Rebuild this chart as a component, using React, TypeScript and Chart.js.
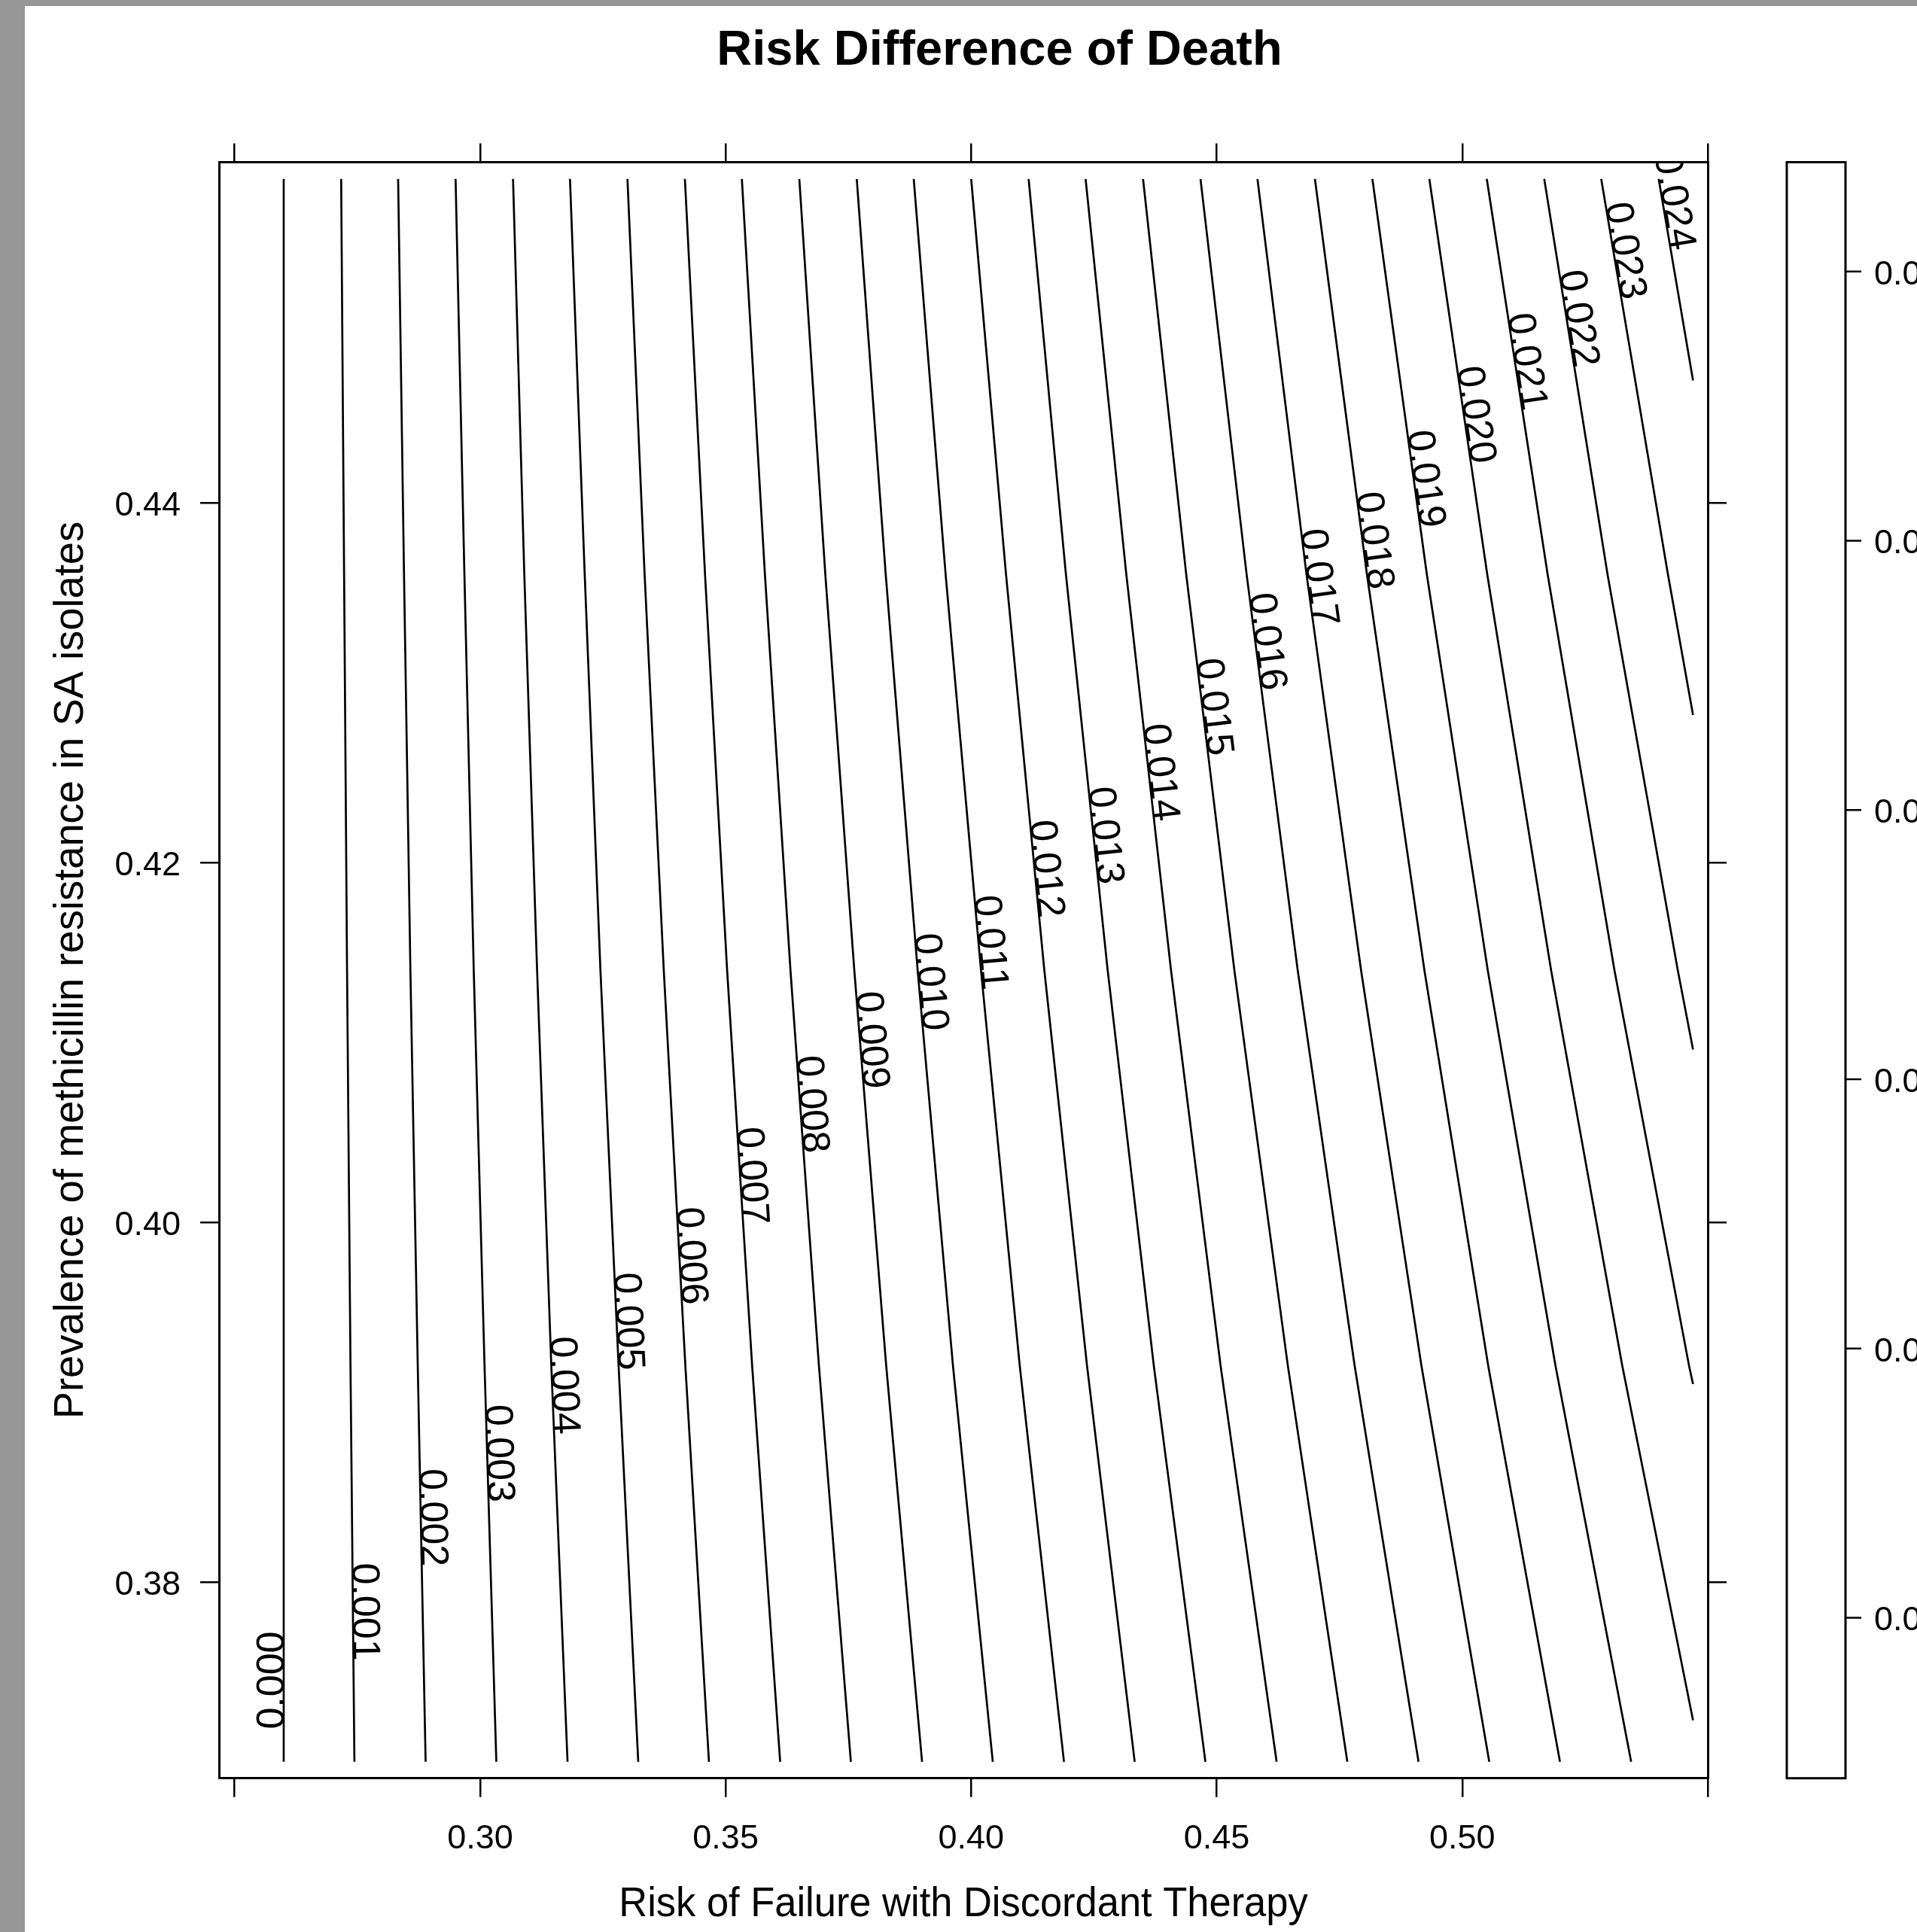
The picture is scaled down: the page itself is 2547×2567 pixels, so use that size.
import React, { useEffect, useRef } from "react";
import { Chart, registerables } from "chart.js";

Chart.register(...registerables);

const CANVAS_W = 2547;
const CANVAS_H = 2567;

const chartTitle = "Risk Difference of Death";
const xAxisTitle = "Risk of Failure with Discordant Therapy";
const yAxisTitle = "Prevalence of methicillin resistance in SA isolates";

const contourLevels = [
  "0.000", "0.001", "0.002", "0.003", "0.004", "0.005", "0.006", "0.007", "0.008",
  "0.009", "0.010", "0.011", "0.012", "0.013", "0.014", "0.015", "0.016", "0.017",
  "0.018", "0.019", "0.020", "0.021", "0.022", "0.023", "0.024",
];

// y positions at which each contour line's x was read
const sampleY = [0.458, 0.436, 0.414, 0.392, 0.37];
const xAtY458 = [0.2600, 0.2717, 0.2833, 0.2950, 0.3067, 0.3183, 0.3300, 0.3417, 0.3533, 0.3650, 0.3767, 0.3883, 0.4000, 0.4117, 0.4233, 0.4350, 0.4467, 0.4583, 0.4700, 0.4817, 0.4933, 0.5050, 0.5167, 0.5283, 0.5400];
const xAtY436 = [0.2600, 0.2723, 0.2845, 0.2968, 0.3090, 0.3213, 0.3335, 0.3458, 0.3580, 0.3703, 0.3826, 0.3948, 0.4071, 0.4193, 0.4316, 0.4438, 0.4561, 0.4683, 0.4806, 0.4928, 0.5051, 0.5174, 0.5296, 0.5419, null];
const xAtY414 = [0.2600, 0.2729, 0.2858, 0.2987, 0.3116, 0.3245, 0.3374, 0.3503, 0.3632, 0.3762, 0.3891, 0.4020, 0.4149, 0.4278, 0.4407, 0.4536, 0.4665, 0.4794, 0.4923, 0.5052, 0.5181, 0.5310, 0.5439, null, null];
const xAtY392 = [0.2600, 0.2736, 0.2873, 0.3009, 0.3145, 0.3282, 0.3418, 0.3554, 0.3690, 0.3827, 0.3963, 0.4099, 0.4236, 0.4372, 0.4508, 0.4645, 0.4781, 0.4917, 0.5053, 0.5190, 0.5326, 0.5462, null, null, null];
const xAtY370 = [0.2600, 0.2744, 0.2889, 0.3033, 0.3178, 0.3322, 0.3466, 0.3611, 0.3755, 0.3900, 0.4044, 0.4189, 0.4333, 0.4477, 0.4622, 0.4766, 0.4911, 0.5055, 0.5199, 0.5344, null, null, null, null, null];

// lines that leave the data grid through its right edge
const gridRightX = 0.547;
const exitYAtRight = [
  null, null, null, null, null, null, null, null, null, null,
  null, null, null, null, null, null, null, null, null, null,
  0.3723, 0.391, 0.4096, 0.4282, 0.4468,
];

// y (centre along the line) of each contour label
const labelY = [
  0.37453, 0.37833, 0.38357, 0.38713, 0.3909, 0.39446, 0.39809, 0.40254, 0.40651,
  0.41008, 0.4133, 0.41549, 0.41959, 0.42144, 0.42494, 0.42857, 0.4322, 0.43576,
  0.43782, 0.44124, 0.4448, 0.44775, 0.45014, 0.45391, 0.45665,
];

const xRange = [0.246827, 0.55];
const yRange = [0.369084, 0.458933];
const xTicks = [0.25, 0.3, 0.35, 0.4, 0.45, 0.5, 0.55];
const xTickLabels = ["", "0.30", "0.35", "0.40", "0.45", "0.50", ""];
const yTicks = [0.38, 0.4, 0.42, 0.44];
const yTickLabels = ["0.38", "0.40", "0.42", "0.44"];

const keyRange = [-0.00298, 0.02703];
const keyTicks = [0.0, 0.005, 0.01, 0.015, 0.02, 0.025];
const keyTickLabels = ["0.000", "0.005", "0.010", "0.015", "0.020", "0.025"];

const FONT = "'Liberation Sans', Arial, sans-serif";

function drawText(
  ctx: CanvasRenderingContext2D,
  text: string,
  x: number,
  y: number,
  font: string,
  align: CanvasTextAlign,
  rotate = 0,
  fitWidth = 0
) {
  ctx.save();
  ctx.font = font;
  ctx.fillStyle = "#000";
  ctx.textAlign = align;
  ctx.textBaseline = "alphabetic";
  ctx.translate(x, y);
  if (rotate) ctx.rotate(rotate);
  if (fitWidth) {
    const m = ctx.measureText(text);
    const w = m.actualBoundingBoxLeft + m.actualBoundingBoxRight;
    if (w > 0) ctx.scale(fitWidth / w, 1);
  }
  ctx.fillText(text, 0, 0);
  ctx.restore();
}

const columns = [xAtY458, xAtY436, xAtY414, xAtY392, xAtY370];

function buildDatasets() {
  return contourLevels.map((lvl, i) => {
    const pts: { x: number; y: number }[] = [];
    columns.forEach((col, j) => {
      const v = col[i];
      if (v !== null && v !== undefined) pts.push({ x: v, y: sampleY[j] });
    });
    const ey = exitYAtRight[i];
    if (ey !== null && ey !== undefined) pts.push({ x: gridRightX, y: ey });
    return {
      label: lvl,
      data: pts,
      showLine: true,
      borderColor: "#000",
      borderWidth: 2.7,
      pointRadius: 0,
      pointHoverRadius: 0,
      tension: 0,
      fill: false,
    };
  });
}

const decorPlugin = {
  id: "decor",
  beforeDraw(chart: any) {
    const ctx = chart.ctx as CanvasRenderingContext2D;
    ctx.save();
    ctx.fillStyle = "#fff";
    ctx.fillRect(0, 0, CANVAS_W, CANVAS_H);
    ctx.fillStyle = "#969696";
    ctx.fillRect(0, 0, 33, CANVAS_H);
    ctx.fillRect(0, 0, CANVAS_W, 8);
    ctx.restore();
  },
  afterDatasetsDraw(chart: any) {
    const ctx = chart.ctx as CanvasRenderingContext2D;
    const area = chart.chartArea;
    const ys = chart.scales.y;
    ctx.save();
    ctx.beginPath();
    ctx.rect(area.left, area.top, area.right - area.left, area.bottom - area.top);
    ctx.clip();
    contourLevels.forEach((lvl, i) => {
      const meta = chart.getDatasetMeta(i);
      const pts = meta.data;
      const yp = ys.getPixelForValue(labelY[i]);
      for (let k = 0; k < pts.length - 1; k++) {
        const a = pts[k];
        const b = pts[k + 1];
        if ((yp >= a.y && yp <= b.y) || k === pts.length - 2) {
          const t = (yp - a.y) / (b.y - a.y);
          const xp = a.x + t * (b.x - a.x);
          const dx = b.x - a.x;
          const dy = b.y - a.y;
          const ang = Math.abs(dx) < 0.5 ? -Math.PI / 2 : Math.atan2(dy, dx);
          drawText(ctx, lvl, xp, yp, `52px ${FONT}`, "center", ang);
          break;
        }
      }
    });
    ctx.restore();
  },
  afterDraw(chart: any) {
    const ctx = chart.ctx as CanvasRenderingContext2D;
    const area = chart.chartArea;
    const xs = chart.scales.x;
    const ys = chart.scales.y;

    drawText(ctx, chartTitle, 1328, 86, `bold 65px ${FONT}`, "center");
    drawText(ctx, xAxisTitle, (area.left + area.right) / 2, 2546, `55px ${FONT}`, "center", 0, 912);
    drawText(ctx, yAxisTitle, 110, (area.top + area.bottom) / 2, `55px ${FONT}`, "center", -Math.PI / 2, 1187);

    xTicks.forEach((v, i) => {
      if (!xTickLabels[i]) return;
      drawText(ctx, xTickLabels[i], xs.getPixelForValue(v), 2456, `45px ${FONT}`, "center");
    });
    yTicks.forEach((v, i) => {
      drawText(ctx, yTickLabels[i], 240, ys.getPixelForValue(v) + 17, `45px ${FONT}`, "right");
    });

    // colour key
    const kLeft = area.right + 105;
    const kRight = area.right + 183;
    const kTop = area.top;
    const kBottom = area.bottom;
    const keyPix = (v: number) =>
      kTop + ((keyRange[1] - v) / (keyRange[1] - keyRange[0])) * (kBottom - kTop);
    ctx.save();
    ctx.strokeStyle = "#000";
    ctx.lineWidth = 3;
    ctx.strokeRect(kLeft, kTop, kRight - kLeft, kBottom - kTop);
    ctx.lineWidth = 2.5;
    keyTicks.forEach((v) => {
      const p = keyPix(v);
      ctx.beginPath();
      ctx.moveTo(kRight, p);
      ctx.lineTo(kRight + 21, p);
      ctx.stroke();
    });
    ctx.restore();
    keyTicks.forEach((v, i) => {
      drawText(ctx, keyTickLabels[i], kRight + 38, keyPix(v) + 17, `45px ${FONT}`, "left");
    });
  },
};

function axisCommon(extra: any) {
  return {
    type: "linear",
    ticks: { display: false },
    grid: {
      display: true,
      drawOnChartArea: false,
      drawTicks: true,
      tickLength: 25,
      color: "#000",
      lineWidth: 2.5,
    },
    border: { display: true, color: "#000", width: 3 },
    ...extra,
  };
}

export default function App() {
  const ref = useRef<HTMLCanvasElement>(null);
  useEffect(() => {
    document.body.style.margin = "0";
    document.body.style.overflow = "hidden";
    const canvas = ref.current;
    if (!canvas) return;
    const setX = (s: any) => {
      s.ticks = xTicks.map((v) => ({ value: v }));
    };
    const setY = (s: any) => {
      s.ticks = yTicks.map((v) => ({ value: v }));
    };
    const chart = new Chart(canvas, {
      type: "scatter",
      data: { datasets: buildDatasets() as any },
      options: {
        responsive: false,
        animation: false,
        devicePixelRatio: 1,
        events: [],
        layout: { padding: { left: 266, right: 253, top: 190.5, bottom: 179.3 } },
        plugins: { legend: { display: false }, title: { display: false }, tooltip: { enabled: false } },
        scales: {
          x: axisCommon({
            axis: "x",
            position: "bottom",
            min: xRange[0],
            max: xRange[1],
            afterBuildTicks: setX,
            afterFit: (s: any) => { s.height = 25; },
          }),
          x2: axisCommon({
            axis: "x",
            position: "top",
            min: xRange[0],
            max: xRange[1],
            afterBuildTicks: setX,
            afterFit: (s: any) => { s.height = 25; },
          }),
          y: axisCommon({
            axis: "y",
            position: "left",
            min: yRange[0],
            max: yRange[1],
            afterBuildTicks: setY,
            afterFit: (s: any) => { s.width = 25; },
          }),
          y2: axisCommon({
            axis: "y",
            position: "right",
            min: yRange[0],
            max: yRange[1],
            afterBuildTicks: setY,
            afterFit: (s: any) => { s.width = 25; },
          }),
        } as any,
      },
      plugins: [decorPlugin],
    });
    return () => chart.destroy();
  }, []);
  return (
    <div style={{ position: "absolute", left: 0, top: 0, width: CANVAS_W, height: CANVAS_H }}>
      <canvas ref={ref} width={CANVAS_W} height={CANVAS_H} style={{ display: "block", width: CANVAS_W, height: CANVAS_H }} />
    </div>
  );
}
